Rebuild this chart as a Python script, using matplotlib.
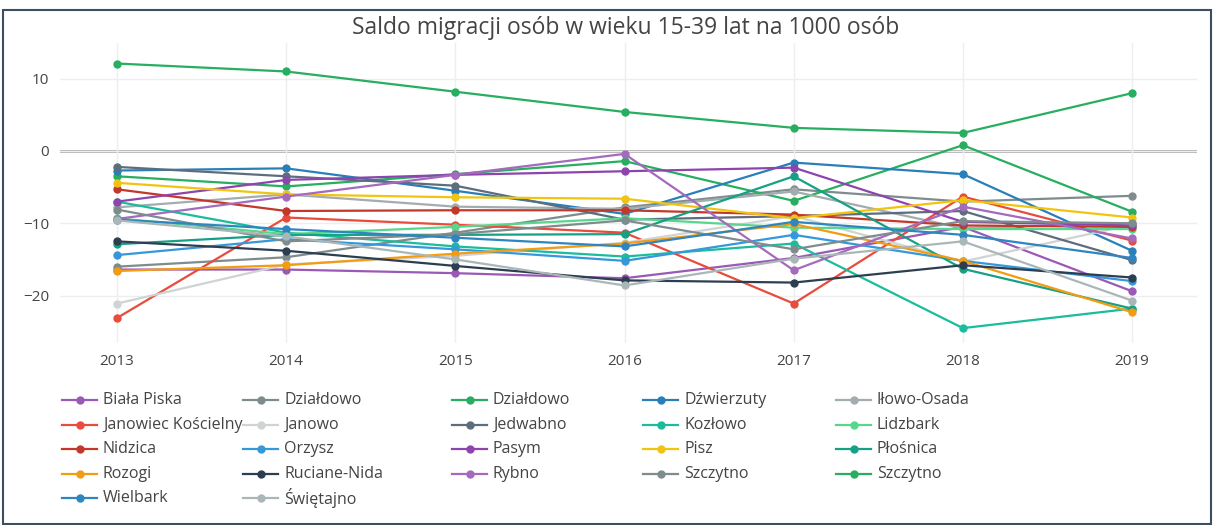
import matplotlib
matplotlib.use("Agg")
import matplotlib.pyplot as plt
from matplotlib.lines import Line2D
from matplotlib.patches import Rectangle

plt.rcParams['font.family'] = ['Open Sans', 'DejaVu Sans']

years = [2013, 2014, 2015, 2016, 2017, 2018, 2019]

names = ["Biała Piska", "Działdowo", "Działdowo", "Dźwierzuty", "Iłowo-Osada",
         "Janowiec Kościelny", "Janowo", "Jedwabno", "Kozłowo", "Lidzbark",
         "Nidzica", "Orzysz", "Pasym", "Pisz", "Płośnica",
         "Rozogi", "Ruciane-Nida", "Rybno", "Szczytno", "Szczytno",
         "Wielbark", "Świętajno"]

colors = ["#9b59b6", "#7f8c8d", "#27ae60", "#2980b9", "#a3adb0",
          "#e74c3c", "#d0d3d4", "#5d6d7e", "#1abc9c", "#58d68d",
          "#c0392b", "#3498db", "#8e44ad", "#f1c40f", "#16a085",
          "#f39c12", "#2c3e50", "#a569bd", "#7f8c8d", "#27ae60",
          "#2e86c1", "#aab7b8"]

biala_piska = [-16.4, -16.4, -16.9, -17.6, -14.8, -10.5, -19.4]
dzialdowo_m = [-16.0, -14.7, -11.3, -7.8, -5.3, -7.0, -6.2]
dzialdowo_g = [-3.5, -4.9, -3.2, -1.4, -6.9, 0.8, -8.4]
dzwierzuty = [-2.7, -2.4, -5.5, -8.7, -1.6, -3.2, -13.8]
ilowo = [-7.8, -6.0, -7.7, -8.0, -5.6, -10.7, -10.0]
janowiec = [-23.1, -9.2, -10.2, -11.3, -21.1, -6.3, -12.4]
janowo = [-21.1, -15.7, -14.5, -12.7, -9.0, -15.3, -10.2]
jedwabno = [-2.2, -3.5, -4.8, -9.5, -9.0, -8.3, -15.1]
kozlowo = [-7.0, -11.3, -13.2, -14.6, -12.8, -24.5, -21.8]
lidzbark = [-9.3, -11.5, -10.5, -9.3, -10.6, -10.8, -10.8]
nidzica = [-5.3, -8.3, -8.2, -8.2, -8.8, -10.3, -10.5]
orzysz = [-14.4, -12.2, -13.6, -15.2, -11.6, -15.2, -18.0]
pasym = [-7.0, -4.0, -3.3, -2.8, -2.3, -9.8, -10.3]
pisz = [-4.4, -6.0, -6.4, -6.6, -9.3, -6.8, -9.2]
plosnica = [-12.9, -11.6, -11.6, -11.5, -3.5, -16.3, -21.8]
rozogi = [-16.6, -15.8, -14.2, -12.8, -10.1, -15.2, -22.3]
ruciane = [-12.5, -13.8, -15.9, -17.9, -18.2, -15.8, -17.5]
rybno = [-9.4, -6.3, -3.3, -0.4, -16.5, -7.7, -12.1]
szczytno_m = [-8.1, -12.5, -11.5, -9.6, -13.6, -9.7, -10.0]
szczytno_g = [12.1, 11.0, 8.2, 5.4, 3.2, 2.5, 8.0]
wielbark = [-9.5, -10.8, -12.0, -13.2, -9.8, -11.6, -14.8]
swietajno = [-9.6, -11.8, -15.0, -18.6, -14.9, -12.5, -20.7]

series = [biala_piska, dzialdowo_m, dzialdowo_g, dzwierzuty, ilowo,
          janowiec, janowo, jedwabno, kozlowo, lidzbark,
          nidzica, orzysz, pasym, pisz, plosnica,
          rozogi, ruciane, rybno, szczytno_m, szczytno_g,
          wielbark, swietajno]

W, H = 1215, 525
fig = plt.figure(figsize=(W / 100, H / 100), dpi=100)
ax = fig.add_axes([60 / W, 1 - 343 / H, 1137 / W, 300 / H])

for vals, c in zip(series, colors):
    ax.plot(years, vals, color=c, lw=1.6, marker='o', markersize=5, zorder=3)

ax.set_xlim(2012.663, 2019.384)
ax.set_ylim(-26.56, 14.94)
ax.set_xticks(years)
ax.set_yticks([-20, -10, 0, 10])
ax.set_yticklabels(['−20', '−10', '0', '10'])
ax.grid(True, color='#eeeeee', lw=1, zorder=0)
ax.axhline(0, color='#999999', lw=1.8, zorder=1)
for s in ax.spines.values():
    s.set_visible(False)
ax.tick_params(length=0, labelsize=11, colors='#444444', pad=8)

fig.text(626 / W, 1 - 28 / H, 'Saldo migracji osób w wieku 15-39 lat na 1000 osób',
         ha='center', va='center', fontsize=16.5, color='#444444')

# legenda w stylu plotly, wierszami po 5
col_x = [62, 243, 452, 643, 836]
for i, (name, c) in enumerate(zip(names, colors)):
    row, col = divmod(i, 5)
    x0 = col_x[col]
    y = 1 - (400 + row * 24.6) / H
    fig.add_artist(Line2D([x0 / W, (x0 + 35) / W], [y, y], color=c, lw=1.6))
    fig.add_artist(Line2D([(x0 + 17.5) / W], [y], color=c, marker='o', markersize=5))
    fig.text((x0 + 41) / W, y, name, ha='left', va='center', fontsize=11.5, color='#444444')

fig.add_artist(Rectangle((3 / W, 1 / H), 1208 / W, 1 - 11 / H, transform=fig.transFigure,
                         fill=False, edgecolor='#3d4e60', lw=1.5))

fig.savefig('out.png', dpi=100)
